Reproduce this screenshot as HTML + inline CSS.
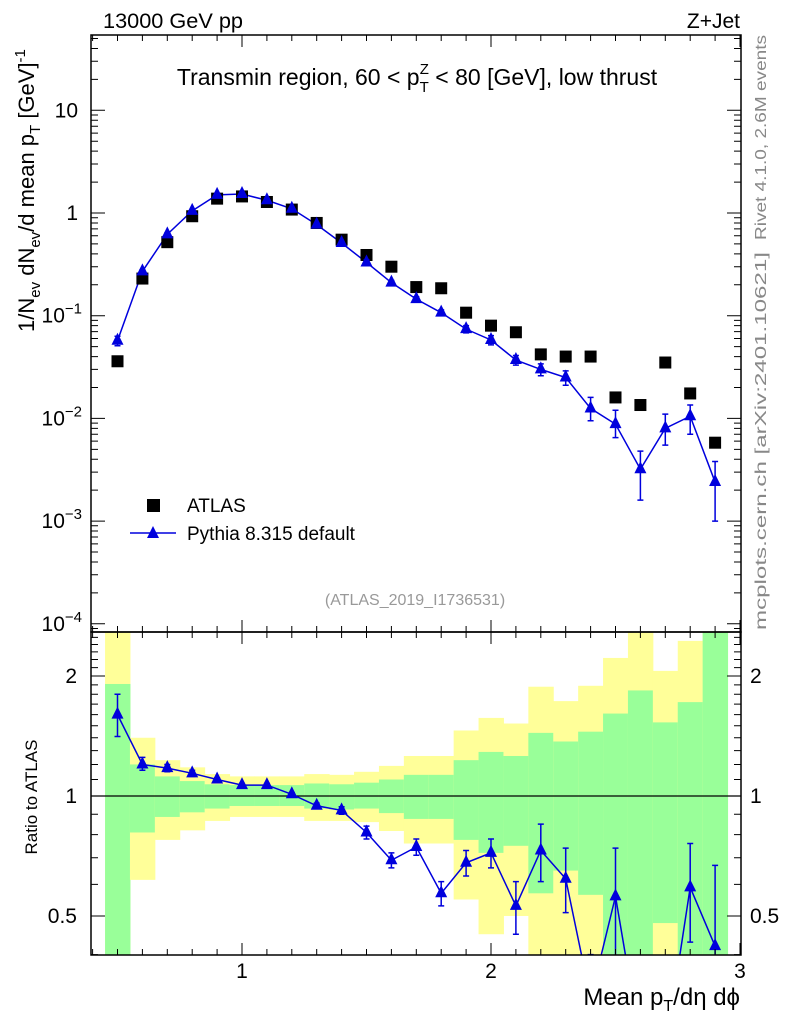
<!DOCTYPE html>
<html><head><meta charset="utf-8"><style>
html,body{margin:0;background:#fff;overflow:hidden;width:786px;height:1024px}
svg{display:block;font-family:"Liberation Sans",sans-serif}
</style></head><body>
<svg id="c" width="786" height="1024" viewBox="0 0 786 1024">
<defs>
<clipPath id="clipMain"><rect x="91" y="35" width="650" height="597"/></clipPath>
<clipPath id="clipRatio"><rect x="91" y="632" width="650" height="323"/></clipPath>
</defs>
<g id="bands" clip-path="url(#clipRatio)"></g>
<g id="ratio" clip-path="url(#clipRatio)"></g>
<g id="main" clip-path="url(#clipMain)"></g>
<g id="axes"></g>
<text x="103" y="28" font-size="21" textLength="140" lengthAdjust="spacingAndGlyphs">13000 GeV pp</text>
<text x="740" y="28" font-size="21" text-anchor="end">Z+Jet</text>
<text x="417" y="85" font-size="23" text-anchor="middle">Transmin region, 60 &lt; p<tspan dy="7" font-size="15">T</tspan><tspan dx="-9" dy="-18" font-size="15">Z</tspan><tspan dy="11"> &lt; 80 [GeV], low thrust</tspan></text>
<text transform="translate(766,240) rotate(-90)" font-size="16" fill="#888" textLength="205" lengthAdjust="spacingAndGlyphs">Rivet 4.1.0,  2.6M events</text>
<text transform="translate(766,630) rotate(-90)" font-size="16" fill="#888" textLength="378" lengthAdjust="spacingAndGlyphs">mcplots.cern.ch [arXiv:2401.10621]</text>
<text x="415" y="605" font-size="16" fill="#999" text-anchor="middle">(ATLAS_2019_I1736531)</text>
<text transform="translate(34,332) rotate(-90)" font-size="22">1/N<tspan dy="6" font-size="15">ev</tspan><tspan dy="-6"> dN</tspan><tspan dy="6" font-size="15">ev</tspan><tspan dy="-6">/d mean p</tspan><tspan dy="6" font-size="15">T</tspan><tspan dy="-6"> [GeV]</tspan><tspan dy="-9" font-size="15">-1</tspan></text>
<text transform="translate(37,797) rotate(-90)" font-size="17" text-anchor="middle">Ratio to ATLAS</text>
<text x="740" y="1005" font-size="24" text-anchor="end">Mean p<tspan dy="6" font-size="16">T</tspan><tspan dy="-6">/dη dϕ</tspan></text>
<g>
<rect x="147" y="499" width="13" height="13" fill="#000"/>
<text x="187" y="512" font-size="19">ATLAS</text>
<line x1="130" y1="533" x2="176" y2="533" stroke="#00d" stroke-width="1.5"/>
<polygon points="153,526 159,538 147,538" fill="#00d"/>
<text x="187" y="540" font-size="19">Pythia 8.315 default</text>
</g>
</svg>
<script>
const xCenters=[0.5,0.6,0.7,0.8,0.9,1.0,1.1,1.2,1.3,1.4,1.5,1.6,1.7,1.8,1.9,2.0,2.1,2.2,2.3,2.4,2.5,2.6,2.7,2.8,2.9];
const atlasVals=[0.036,0.23,0.52,0.93,1.38,1.45,1.28,1.08,0.8,0.55,0.39,0.3,0.19,0.185,0.107,0.08,0.069,0.042,0.04,0.04,0.016,0.0135,0.035,0.0175,0.0058];
const pythiaVals=[0.057,0.27,0.62,1.05,1.5,1.53,1.33,1.1,0.77,0.51,0.33,0.21,0.145,0.107,0.074,0.058,0.037,0.03,0.025,0.0125,0.0088,0.0032,0.008,0.0105,0.0024];
const pythiaErrLo=[0.051,0.26,0.6,1.03,1.48,1.51,1.31,1.08,0.75,0.49,0.31,0.2,0.137,0.1,0.068,0.052,0.033,0.026,0.021,0.0095,0.0065,0.0016,0.0055,0.007,0.001];
const pythiaErrHi=[0.063,0.28,0.64,1.07,1.52,1.55,1.35,1.12,0.79,0.53,0.35,0.22,0.153,0.114,0.08,0.064,0.041,0.034,0.029,0.016,0.012,0.0048,0.011,0.0135,0.0038];
const ratioVals=[1.60,1.20,1.175,1.14,1.10,1.065,1.065,1.01,0.945,0.92,0.81,0.69,0.745,0.57,0.68,0.72,0.53,0.73,0.62,0.31,0.56,0.24,0.23,0.59,0.42];
const ratioLo=[1.41,1.16,1.15,1.12,1.09,1.055,1.055,1.0,0.93,0.9,0.78,0.66,0.71,0.53,0.63,0.66,0.45,0.61,0.51,0.24,0.3,0.12,0.16,0.43,0.1];
const ratioHi=[1.80,1.25,1.20,1.16,1.11,1.075,1.075,1.02,0.96,0.94,0.84,0.72,0.78,0.61,0.73,0.78,0.61,0.85,0.74,0.4,0.74,0.36,0.31,0.76,0.67];
const yellowHi=[2.7,1.40,1.23,1.18,1.135,1.12,1.12,1.12,1.135,1.13,1.15,1.19,1.26,1.26,1.46,1.57,1.52,1.88,1.73,1.89,2.22,2.7,2.06,2.45,2.7];
const greenHi=[1.91,1.20,1.12,1.09,1.07,1.065,1.065,1.065,1.075,1.07,1.08,1.10,1.13,1.13,1.23,1.29,1.26,1.44,1.37,1.45,1.61,1.84,1.53,1.72,2.7];
const greenLo=[0.3,0.81,0.886,0.91,0.93,0.944,0.944,0.944,0.93,0.925,0.93,0.906,0.876,0.876,0.776,0.72,0.75,0.57,0.65,0.565,0.3,0.3,0.48,0.3,0.3];
const yellowLo=[0.3,0.616,0.776,0.82,0.866,0.886,0.886,0.886,0.866,0.866,0.86,0.817,0.76,0.76,0.55,0.45,0.50,0.3,0.3,0.3,0.3,0.3,0.3,0.3,0.3];
const xTicksMajor=[1,2,3];
const yTicksMain=[10,1,0.1,0.01,0.001,0.0001];
const yTickLabelsMain=["10","1","10","10","10","10"];
const yTickExpMain=["","","−1","−2","−3","−4"];
const ratioTicks=[2,1,0.5];

const NS="http://www.w3.org/2000/svg";
const X=v=>242+(v-1)*249;
const Y=v=>213-Math.log10(v)*102.7;
const R=v=>796-Math.log10(v)*398.6;
function mk(tag,attrs,parent){const e=document.createElementNS(NS,tag);for(const k in attrs)e.setAttribute(k,attrs[k]);parent.appendChild(e);return e;}
const bands=document.getElementById('bands'),ratio=document.getElementById('ratio'),main=document.getElementById('main'),axes=document.getElementById('axes');

xCenters.forEach((c,i)=>{
  const x0=X(c-0.05),w=X(c+0.05)-x0;
  let e=mk('rect',{x:x0,y:R(yellowHi[i]),width:w+0.5,height:R(yellowLo[i])-R(yellowHi[i]),fill:'#ffff99'},bands);
  
  
  e=mk('rect',{x:x0,y:R(greenHi[i]),width:w+0.5,height:R(greenLo[i])-R(greenHi[i]),fill:'#99ff99'},bands);
  
  
});
let l=mk('line',{x1:91,x2:741,y1:R(1),y2:R(1),stroke:'#000','stroke-width':1.3},bands);



function tri(g,x,y,name){const p=mk('polygon',{points:`${x},${y-8} ${x+6},${y+4} ${x-6},${y+4}`,fill:'#00d'},g);
  
  }
function err(g,x,lo,hi,name){const e=mk('path',{d:`M${x},${lo}V${hi}M${x-3},${lo}H${x+3}M${x-3},${hi}H${x+3}`,stroke:'#00d','stroke-width':1.5,fill:'none'},g);
  
  }

let pl=mk('polyline',{points:xCenters.map((c,i)=>X(c)+','+R(ratioVals[i])).join(' '),fill:'none',stroke:'#00d','stroke-width':1.5},ratio);


xCenters.forEach((c,i)=>{err(ratio,X(c),R(ratioLo[i]),R(ratioHi[i]),'ratio-error-bar');tri(ratio,X(c),R(ratioVals[i]),'ratio-point');});

pl=mk('polyline',{points:xCenters.map((c,i)=>X(c)+','+Y(pythiaVals[i])).join(' '),fill:'none',stroke:'#00d','stroke-width':1.5},main);


xCenters.forEach((c,i)=>{
  const s=mk('rect',{x:X(c)-6,y:Y(atlasVals[i])-6,width:12,height:12,fill:'#000'},main);
  
  
  err(main,X(c),Y(pythiaErrLo[i]),Y(pythiaErrHi[i]),'pythia-error-bar');
  tri(main,X(c),Y(pythiaVals[i]),'pythia-point');
});

let f=mk('rect',{x:91,y:35,width:650,height:597,fill:'none',stroke:'#000','stroke-width':1.5},axes);


f=mk('rect',{x:91,y:632,width:650,height:323,fill:'none',stroke:'#000','stroke-width':1.5},axes);


let d='';
for(let v=0.4;v<=3.001;v+=0.1){const x=X(v),len=(Math.abs(v-Math.round(v))<0.01)?12:6;
  d+=`M${x},35v${len}M${x},632v${-len}M${x},632v${len}M${x},955v${-len}`;}
for(let e=-5;e<=1;e++){for(let m=1;m<10;m++){const v=m*Math.pow(10,e);const y=Y(v);if(y<35||y>632)continue;const len=m==1?14:7;d+=`M91,${y}h${len}M741,${y}h${-len}`;}}
for(let v=0.4;v<=2.6;v+=0.1){const y=R(v);if(y<632||y>955)continue;const maj=[0.5,1,2].some(t=>Math.abs(t-v)<0.01);const len=maj?14:7;d+=`M91,${y}h${len}M741,${y}h${-len}`;}
const tk=mk('path',{d:d,stroke:'#000','stroke-width':1,fill:'none'},axes);



yTicksMain.forEach((v,i)=>{
  const t=mk('text',{x:78,y:Y(v)+7,'font-size':21,'text-anchor':'end'},axes);
  t.textContent=yTickLabelsMain[i];
  if(yTickExpMain[i]){const s=document.createElementNS(NS,'tspan');s.setAttribute('dy','-9');s.setAttribute('font-size','15');s.textContent=yTickExpMain[i];t.appendChild(s);
    t.setAttribute('x',82);}
  
  
});
ratioTicks.forEach(v=>{
  let t=mk('text',{x:77,y:R(v)+7,'font-size':21,'text-anchor':'end'},axes);t.textContent=String(v);
  
  
  t=mk('text',{x:750,y:R(v)+7,'font-size':21},axes);t.textContent=String(v);
  
  
});
xTicksMajor.forEach(v=>{
  const t=mk('text',{x:X(v),y:978,'font-size':21,'text-anchor':'middle'},axes);t.textContent=String(v);
  
  
});
</script>
</body></html>
